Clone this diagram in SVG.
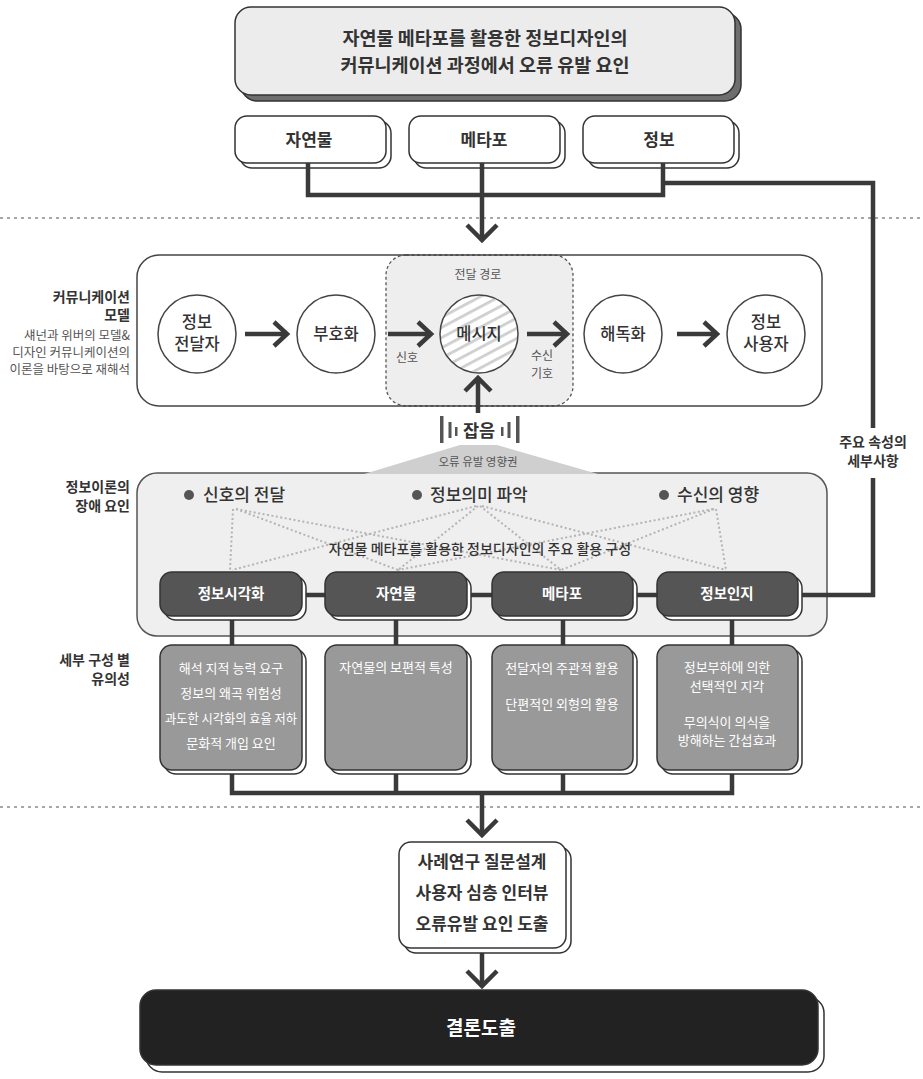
<svg xmlns="http://www.w3.org/2000/svg" width="923" height="1079" viewBox="0 0 923 1079">
  <style>
    .t{font-family:"Noto Sans CJK KR","Noto Sans",sans-serif;fill:#333}
    .b{font-weight:700}
    .m{font-weight:500}
    .c{text-anchor:middle}
    .r{text-anchor:end}
    .w{fill:#fff}
    .g{fill:#555}
    .ln{stroke:#3a3a3a;stroke-width:4.5;fill:none;stroke-linejoin:miter}
    .sep{stroke:#8a8a8a;stroke-width:1.5;stroke-dasharray:3 4}
    .dt{stroke:#b4b4b4;stroke-width:2;stroke-dasharray:2 2.5;fill:none}
    .box{stroke:#333;stroke-width:1.5}
    .circ{fill:#fff;stroke:#444;stroke-width:1.5}
  </style>
  <defs>
    <pattern id="hatch" patternUnits="userSpaceOnUse" width="9" height="9" patternTransform="rotate(-28)">
      <rect width="9" height="9" fill="#fff"/>
      <rect y="0" width="9" height="2.8" fill="#cfcfcf"/>
    </pattern>
  </defs>

  <!-- section separators -->
  <line class="sep" x1="0" y1="218" x2="923" y2="218"/>
  <line class="sep" x1="0" y1="807" x2="923" y2="807"/>

  <!-- title -->
  <g id="title">
    <rect class="box" x="241" y="13" width="500" height="88" rx="16" fill="#6e6e6e"/>
    <rect class="box" x="235" y="7" width="500" height="88" rx="16" fill="#ececec"/>
    <text class="t b c" x="485" y="45" font-size="18.5">자연물 메타포를 활용한 정보디자인의</text>
    <text class="t b c" x="485" y="72" font-size="18.5">커뮤니케이션 과정에서 오류 유발 요인</text>
  </g>

  <!-- source terms -->
  <g id="term-nature">
    <rect class="box" x="240" y="121" width="151" height="47" rx="12" fill="#fff"/>
    <rect class="box" x="235" y="116" width="151" height="47" rx="12" fill="#fff"/>
    <text class="t b c" x="309" y="146" font-size="17">자연물</text>
  </g>
  <g id="term-metaphor">
    <rect class="box" x="414" y="121" width="151" height="47" rx="12" fill="#fff"/>
    <rect class="box" x="409" y="116" width="151" height="47" rx="12" fill="#fff"/>
    <text class="t b c" x="484" y="146" font-size="17">메타포</text>
  </g>
  <g id="term-info">
    <rect class="box" x="588" y="121" width="151" height="47" rx="12" fill="#fff"/>
    <rect class="box" x="583" y="116" width="151" height="47" rx="12" fill="#fff"/>
    <text class="t b c" x="659" y="146" font-size="17">정보</text>
  </g>

  <!-- side labels -->
  <g id="label-model">
    <text class="t b r" x="130" y="302" font-size="14">커뮤니케이션</text>
    <text class="t b r" x="130" y="320" font-size="14">모델</text>
    <text class="t r g" x="130" y="340" font-size="12.5">섀넌과 위버의 모델&amp;</text>
    <text class="t r g" x="130" y="357" font-size="12.5">디자인 커뮤니케이션의</text>
    <text class="t r g" x="130" y="374" font-size="12.5">이론을 바탕으로 재해석</text>
  </g>
  <g id="label-obstacle">
    <text class="t b r" x="130" y="492" font-size="14">정보이론의</text>
    <text class="t b r" x="130" y="511" font-size="14">장애 요인</text>
  </g>
  <g id="label-detail">
    <text class="t b r" x="130" y="665" font-size="14">세부 구성 별</text>
    <text class="t b r" x="130" y="684" font-size="14">유의성</text>
  </g>

  <!-- communication model -->
  <g id="model">
    <rect x="137" y="255" width="685" height="151" rx="22" fill="#fff"/>
    <rect x="386" y="255" width="187" height="151" rx="20" fill="#eeeeee" stroke="#555" stroke-width="1.3" stroke-dasharray="3 2.5"/>
    <rect x="137" y="255" width="685" height="151" rx="22" fill="none" stroke="#444" stroke-width="1.5"/>
    <text class="t c g" x="478" y="279" font-size="12">전달 경로</text>
  </g>
  <g id="node-sender">
    <circle class="circ" cx="197" cy="334" r="39"/>
    <text class="t m c" x="197" y="328" font-size="16.5">정보</text>
    <text class="t m c" x="197" y="350" font-size="16.5">전달자</text>
  </g>
  <g id="node-encode">
    <circle class="circ" cx="336" cy="334" r="39"/>
    <text class="t m c" x="336" y="340" font-size="16.5">부호화</text>
  </g>
  <g id="node-message">
    <circle cx="479" cy="334" r="39" fill="url(#hatch)" stroke="#444" stroke-width="1.5"/>
    <text class="t m c" x="479" y="340" font-size="16.5">메시지</text>
  </g>
  <g id="node-decode">
    <circle class="circ" cx="623" cy="334" r="39"/>
    <text class="t m c" x="623" y="340" font-size="16.5">해독화</text>
  </g>
  <g id="node-receiver">
    <circle class="circ" cx="766" cy="334" r="39"/>
    <text class="t m c" x="766" y="328" font-size="16.5">정보</text>
    <text class="t m c" x="766" y="350" font-size="16.5">사용자</text>
  </g>
  <g id="model-labels">
    <text class="t c g" x="407" y="362" font-size="12">신호</text>
    <text class="t c g" x="542" y="360" font-size="12">수신</text>
    <text class="t c g" x="542" y="378" font-size="12">기호</text>
  </g>

  <!-- noise -->
  <g id="noise">
    <rect x="440" y="416" width="3.5" height="27" fill="#555"/>
    <rect x="448.5" y="422" width="3" height="16" fill="#555"/>
    <rect x="455" y="427" width="2.5" height="9" fill="#555"/>
    <rect x="501" y="427" width="2.5" height="9" fill="#555"/>
    <rect x="507.5" y="422" width="3" height="16" fill="#555"/>
    <rect x="516" y="416" width="3.5" height="27" fill="#555"/>
    <text class="t b c" x="479" y="437" font-size="17.5">잡음</text>
  </g>

  <!-- obstacle factors -->
  <g id="factors">
    <rect x="137" y="473" width="690" height="163" rx="20" fill="#efefef" stroke="#555" stroke-width="1.5"/>
    <polygon points="460,445 497,445 598,474 364,474" fill="#cfcfcf"/>
    <text class="t c g" x="478" y="466" font-size="11.5">오류 유발 영향권</text>
    <circle cx="189" cy="495" r="5" fill="#555"/>
    <text class="t m" x="203" y="501" font-size="17">신호의 전달</text>
    <circle cx="417" cy="495" r="5" fill="#555"/>
    <text class="t m" x="430" y="501" font-size="17">정보의미 파악</text>
    <circle cx="664" cy="495" r="5" fill="#555"/>
    <text class="t m" x="677" y="501" font-size="17">수신의 영향</text>
    <g id="factor-links">
      <path class="dt" d="M233,509 L230,570 M236,509 L561,570 M236,509 L398,570"/>
      <path class="dt" d="M476,506 L232,570 M478,506 L398,570 M480,506 L561,570 M482,506 L726,570"/>
      <path class="dt" d="M716,509 L726,570 M714,509 L561,570 M713,509 L398,570"/>
    </g>
    <text class="t m c" x="480" y="554" font-size="14">자연물 메타포를 활용한 정보디자인의 주요 활용 구성</text>
  </g>

  <!-- connectors -->
  <g id="connectors">
    <path class="ln" d="M308,163 V195 H663 V163 M482,163 V239"/>
    <path class="ln" d="M467,225 L482,240 L497,225"/>
    <path class="ln" d="M663,183 H873 V428 M873,478 V595 H798"/>
    <path class="ln" d="M245,334 H286 M274,322 L287,334 L274,346"/>
    <path class="ln" d="M388,334 H430 M418,322 L431,334 L418,346"/>
    <path class="ln" d="M527,334 H566 M554,322 L567,334 L554,346"/>
    <path class="ln" d="M677,334 H716 M704,322 L717,334 L704,346"/>
    <path class="ln" d="M478,413 V378 M465,391 L478,378 L491,391"/>
    <path class="ln" d="M302,595 H325 M467,595 H492 M633,595 H657"/>
    <path class="ln" d="M232,615 V645 M396,615 V645 M563,615 V645 M732,615 V645"/>
    <path class="ln" d="M232,770 V793 H732 V770 M396,770 V793 M563,770 V793 M482,793 V834"/>
    <path class="ln" d="M467,820 L482,835 L497,820"/>
    <path class="ln" d="M482,948 V985"/>
    <path class="ln" d="M467,971 L482,986 L497,971"/>
  </g>
  <g id="label-attr">
    <text class="t b c" x="873" y="447" font-size="14">주요 속성의</text>
    <text class="t b c" x="873" y="466" font-size="14">세부사항</text>
  </g>

  <!-- design components -->
  <g id="comp-visual">
    <rect class="box" x="164" y="576" width="142" height="44" rx="12" fill="#fff"/>
    <rect class="box" x="160" y="572" width="142" height="44" rx="12" fill="#555"/>
    <text class="t b c w" x="231" y="599" font-size="14.5">정보시각화</text>
  </g>
  <g id="comp-nature">
    <rect class="box" x="329" y="576" width="142" height="44" rx="12" fill="#fff"/>
    <rect class="box" x="325" y="572" width="142" height="44" rx="12" fill="#555"/>
    <text class="t b c w" x="396" y="599" font-size="14.5">자연물</text>
  </g>
  <g id="comp-metaphor">
    <rect class="box" x="496" y="576" width="141" height="44" rx="12" fill="#fff"/>
    <rect class="box" x="492" y="572" width="141" height="44" rx="12" fill="#555"/>
    <text class="t b c w" x="562" y="599" font-size="14.5">메타포</text>
  </g>
  <g id="comp-cognition">
    <rect class="box" x="661" y="576" width="141" height="44" rx="12" fill="#fff"/>
    <rect class="box" x="657" y="572" width="141" height="44" rx="12" fill="#555"/>
    <text class="t b c w" x="727" y="599" font-size="14.5">정보인지</text>
  </g>

  <!-- component details -->
  <g id="detail-visual">
    <rect class="box" x="164" y="649" width="142" height="125" rx="12" fill="#fff"/>
    <rect class="box" x="160" y="645" width="142" height="125" rx="12" fill="#999"/>
    <text class="t c w" x="231" y="673" font-size="13">해석 지적 능력 요구</text>
    <text class="t c w" x="231" y="698" font-size="13">정보의 왜곡 위험성</text>
    <text class="t c w" x="231" y="723" font-size="13" textLength="132" lengthAdjust="spacingAndGlyphs">과도한 시각화의 효율 저하</text>
    <text class="t c w" x="231" y="748" font-size="13">문화적 개입 요인</text>
  </g>
  <g id="detail-nature">
    <rect class="box" x="329" y="649" width="142" height="125" rx="12" fill="#fff"/>
    <rect class="box" x="325" y="645" width="142" height="125" rx="12" fill="#999"/>
    <text class="t c w" x="396" y="672" font-size="13">자연물의 보편적 특성</text>
  </g>
  <g id="detail-metaphor">
    <rect class="box" x="496" y="649" width="141" height="125" rx="12" fill="#fff"/>
    <rect class="box" x="492" y="645" width="141" height="125" rx="12" fill="#999"/>
    <text class="t c w" x="562" y="673" font-size="13">전달자의 주관적 활용</text>
    <text class="t c w" x="562" y="709" font-size="13">단편적인 외형의 활용</text>
  </g>
  <g id="detail-cognition">
    <rect class="box" x="661" y="649" width="141" height="125" rx="12" fill="#fff"/>
    <rect class="box" x="657" y="645" width="141" height="125" rx="12" fill="#999"/>
    <text class="t c w" x="727" y="672" font-size="13">정보부하에 의한</text>
    <text class="t c w" x="727" y="691" font-size="13">선택적인 지각</text>
    <text class="t c w" x="727" y="727" font-size="13">무의식이 의식을</text>
    <text class="t c w" x="727" y="745" font-size="13">방해하는 간섭효과</text>
  </g>

  <!-- research method -->
  <g id="method">
    <rect class="box" x="404" y="847" width="167" height="106" rx="12" fill="#fff"/>
    <rect class="box" x="399" y="842" width="167" height="106" rx="12" fill="#fff"/>
    <text class="t b c" x="482" y="868" font-size="17">사례연구 질문설계</text>
    <text class="t b c" x="482" y="899" font-size="17">사용자 심층 인터뷰</text>
    <text class="t b c" x="482" y="930" font-size="17">오류유발 요인 도출</text>
  </g>

  <!-- conclusion -->
  <g id="conclusion">
    <rect class="box" x="146" y="997" width="678" height="75" rx="16" fill="#fff"/>
    <rect class="box" x="140" y="990" width="678" height="75" rx="16" fill="#222"/>
    <text class="t b c w" x="481" y="1035" font-size="19">결론도출</text>
  </g>
</svg>
